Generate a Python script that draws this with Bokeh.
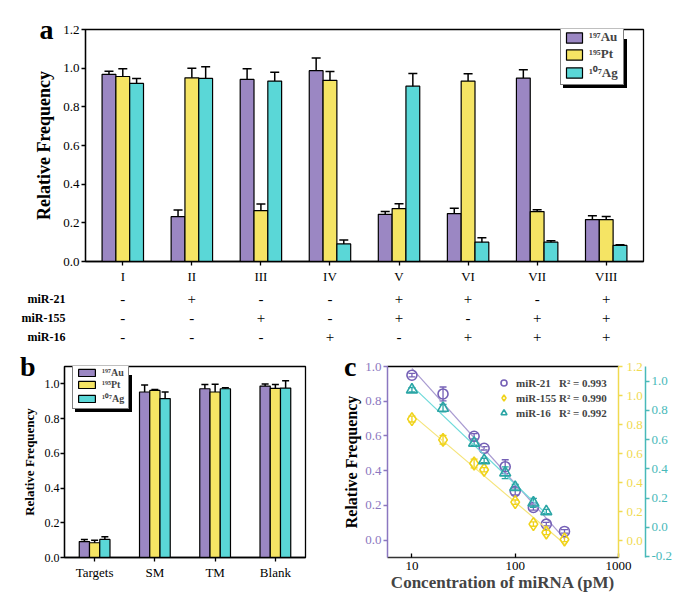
from bokeh.plotting import figure
from bokeh.models import (Range1d, FactorRange, FixedTicker, PrintfTickFormatter,
                          NumeralTickFormatter, Whisker, TeeHead, ColumnDataSource,
                          Legend, LegendItem, LinearAxis)
from bokeh.layouts import column, row
from bokeh.embed import file_html
from bokeh.resources import INLINE
from bokeh.core.properties import value
import numpy as np

SERIF = "Liberation Serif"

# ---------------- data: panel a ----------------
groups_a = ["I", "II", "III", "IV", "V", "VI", "VII", "VIII"]
au_a = [0.968, 0.232, 0.942, 0.987, 0.244, 0.248, 0.949, 0.217]
au_a_err = [0.016, 0.034, 0.055, 0.065, 0.015, 0.027, 0.043, 0.019]
pt_a = [0.957, 0.950, 0.263, 0.937, 0.274, 0.933, 0.258, 0.217]
pt_a_err = [0.040, 0.049, 0.034, 0.046, 0.025, 0.038, 0.010, 0.016]
ag_a = [0.921, 0.947, 0.933, 0.091, 0.907, 0.100, 0.100, 0.083]
ag_a_err = [0.026, 0.060, 0.046, 0.020, 0.065, 0.023, 0.007, 0.003]

table_rows = ["miR-21", "miR-155", "miR-16"]
mir21 = ["-", "+", "-", "-", "+", "+", "-", "+"]
mir155 = ["-", "-", "+", "-", "+", "-", "+", "+"]
mir16 = ["-", "-", "-", "+", "-", "+", "+", "+"]

# ---------------- data: panel b ----------------
groups_b = ["Targets", "SM", "TM", "Blank"]
au_b = [0.092, 0.953, 0.972, 0.987]
au_b_err = [0.012, 0.040, 0.025, 0.012]
pt_b = [0.085, 0.962, 0.953, 0.974]
pt_b_err = [0.015, 0.005, 0.045, 0.022]
ag_b = [0.104, 0.915, 0.972, 0.976]
ag_b_err = [0.015, 0.038, 0.005, 0.042]

series_names = ["\u00b9\u2079\u2077Au", "\u00b9\u2079\u2075Pt", "\u00b9\u2070\u2077Ag"]

# ---------------- data: panel c ----------------
conc_21 = [10, 20, 40, 50, 80, 100, 150, 200, 300]
rf_21 = [0.950, 0.842, 0.598, 0.529, 0.423, 0.281, 0.188, 0.092, 0.050]
err_21 = [0.010, 0.040, 0.015, 0.010, 0.040, 0.020, 0.015, 0.010, 0.010]
conc_155 = [10, 20, 40, 50, 100, 150, 200, 300]
rf_155 = [0.838, 0.695, 0.532, 0.489, 0.266, 0.115, 0.057, 0.009]
err_155 = [0.020, 0.030, 0.030, 0.015, 0.015, 0.015, 0.015, 0.015]
conc_16 = [10, 20, 40, 50, 80, 100, 150, 200]
rf_16 = [0.941, 0.815, 0.576, 0.457, 0.373, 0.274, 0.167, 0.108]
err_16 = [0.015, 0.025, 0.015, 0.015, 0.040, 0.020, 0.030, 0.015]
mir_names = ["miR-21", "miR-155", "miR-16"]
r2_values = ["0.993", "0.990", "0.992"]

PURPLE, YELLOW, TEAL = "#9b87c3", "#f5e464", "#5ad7d7"
bar_colors = [PURPLE, YELLOW, TEAL]


def style_axis(ax, size):
    ax.major_label_text_font = SERIF
    ax.major_label_text_font_size = size
    ax.major_label_text_color = "black"
    ax.axis_line_color = "black"
    ax.axis_line_width = 1.3
    ax.major_tick_line_width = 1.3
    ax.minor_tick_line_color = None
    ax.minor_tick_out = 0
    ax.minor_tick_in = 0
    ax.major_tick_out = 4
    ax.major_tick_in = 0


def letter_axis(p, letter, standoff, title, title_size, title_standoff):
    """Outer left axis: carries the panel letter (as its only tick label) and the y title."""
    p.extra_y_ranges["lab"] = Range1d(0, 1)
    ax = LinearAxis(y_range_name="lab", ticker=FixedTicker(ticks=[1]),
                    major_label_overrides={1: letter})
    ax.axis_line_color = None
    ax.major_tick_line_color = None
    ax.minor_tick_line_color = None
    ax.major_tick_out = 0
    ax.major_tick_in = 0
    ax.minor_tick_out = 0
    ax.minor_tick_in = 0
    ax.major_label_standoff = standoff
    ax.major_label_text_font = SERIF
    ax.major_label_text_font_style = "bold"
    ax.major_label_text_font_size = "28px"
    ax.major_label_text_color = "black"
    ax.axis_label = title
    ax.axis_label_text_font = SERIF
    ax.axis_label_text_font_style = "bold"
    ax.axis_label_text_font_size = title_size
    ax.axis_label_text_color = "black"
    ax.axis_label_standoff = title_standoff
    p.add_layout(ax, "left")


def bar_panel(p, vals_list, err_list, width, label_size, glyph_w, glyph_h, loc, head, pad, lab_w):
    items = []
    shadow_items = []
    for k, (vals, errs) in enumerate(zip(vals_list, err_list)):
        off = (k - 1) * width
        xs = [i + off for i in range(len(vals))]
        src = ColumnDataSource(dict(x=xs, top=vals,
                                    upper=[v + e for v, e in zip(vals, errs)],
                                    lower=[v - e for v, e in zip(vals, errs)]))
        r = p.vbar(x="x", top="top", width=width, source=src, fill_color=bar_colors[k],
                   line_color="black", line_width=1.2)
        p.add_layout(Whisker(source=src, base="x", upper="upper", lower="lower",
                             line_color="black", line_width=1.5,
                             upper_head=TeeHead(size=head, line_width=1.5, line_color="black"),
                             lower_head=TeeHead(size=head, line_width=1.5, line_color="black")))
        items.append(LegendItem(label=series_names[k], renderers=[r]))
        shadow_items.append(LegendItem(label=" ", renderers=[r]))
    common = dict(margin=0, padding=pad, spacing=1, glyph_width=glyph_w, glyph_height=glyph_h,
                  label_standoff=5, label_text_font=SERIF, label_text_font_style="bold",
                  label_text_font_size=label_size, label_height=glyph_h, label_width=lab_w,
                  border_line_width=1.2)
    shadow = Legend(items=shadow_items, location=(loc[0] + 3, loc[1] - 3),
                    border_line_color="black", background_fill_color="black",
                    background_fill_alpha=1.0, **common)
    leg = Legend(items=items, location=loc, border_line_color="black",
                 background_fill_color="white", background_fill_alpha=1.0, **common)
    p.add_layout(shadow)
    p.add_layout(leg)


# ================= panel a =================
xr_a = Range1d(-0.54, 7.54)
pa = figure(width=680, height=287, x_range=xr_a, y_range=Range1d(0, 1.2),
            output_backend="svg", toolbar_location=None,
            min_border_left=85, min_border_right=37, min_border_top=29, min_border_bottom=26)
pa.grid.visible = False
pa.outline_line_color = "black"
pa.outline_line_width = 1.3
bar_panel(pa, [au_a, pt_a, ag_a], [au_a_err, pt_a_err, ag_a_err], 0.2, "13px", 20, 13,
          (475, 176), 9, 3, 31)
pa.xaxis.ticker = FixedTicker(ticks=list(range(len(groups_a))))
pa.xaxis.major_label_overrides = {i: g for i, g in enumerate(groups_a)}
pa.yaxis.ticker = FixedTicker(ticks=[0, 0.2, 0.4, 0.6, 0.8, 1.0, 1.2])
pa.yaxis.formatter = PrintfTickFormatter(format="%.1f")
style_axis(pa.xaxis[0], "13px")
style_axis(pa.yaxis[0], "13px")
pa.xaxis.major_label_standoff = 3
pa.yaxis.major_label_standoff = 2
letter_axis(pa, "a", 7, "Relative Frequency", "18px", -17)

# ================= table under panel a =================
pt = figure(width=680, height=59, x_range=xr_a,
            y_range=FactorRange(factors=table_rows[::-1]),
            output_backend="svg", toolbar_location=None,
            min_border_left=85, min_border_right=37, min_border_top=2, min_border_bottom=0)
pt.grid.visible = False
pt.outline_line_color = None
pt.xaxis.visible = False
pt.yaxis.axis_line_color = None
pt.yaxis.major_tick_line_color = None
pt.yaxis.major_tick_out = 0
pt.yaxis.major_label_standoff = 20
pt.yaxis.major_label_text_font = SERIF
pt.yaxis.major_label_text_font_style = "bold"
pt.yaxis.major_label_text_font_size = "12px"
pt.yaxis.major_label_text_color = "black"
for name, signs in zip(table_rows, [mir21, mir155, mir16]):
    src = ColumnDataSource(dict(x=list(range(len(signs))), y=[name] * len(signs), t=signs))
    pt.text(x="x", y="y", text="t", source=src, text_align="center", text_baseline="middle",
            text_font=value(SERIF), text_font_size="15px", text_color="black")

# ================= panel b =================
pb = figure(width=340, height=260, x_range=Range1d(-0.5, 3.5), y_range=Range1d(0, 1.1),
            output_backend="svg", toolbar_location=None,
            min_border_left=64, min_border_right=35, min_border_top=20, min_border_bottom=45)
pb.grid.visible = False
pb.outline_line_color = "black"
pb.outline_line_width = 1.3
bar_panel(pb, [au_b, pt_b, ag_b], [au_b_err, pt_b_err, ag_b_err], 0.17, "10px", 21, 9,
          (8, 148), 7, 3, 23)
pb.xaxis.ticker = FixedTicker(ticks=list(range(len(groups_b))))
pb.xaxis.major_label_overrides = {i: g for i, g in enumerate(groups_b)}
pb.yaxis.ticker = FixedTicker(ticks=[0, 0.2, 0.4, 0.6, 0.8, 1.0])
pb.yaxis.formatter = PrintfTickFormatter(format="%.1f")
style_axis(pb.xaxis[0], "13px")
style_axis(pb.yaxis[0], "12px")
pb.xaxis.major_label_standoff = 3
pb.yaxis.major_label_standoff = 1
letter_axis(pb, "b", 6, "Relative Frequency", "13px", -20)

# ================= panel c =================
C_PUR_AX, C_YEL_AX, C_TEA_AX = "#8b77c0", "#f0da50", "#48b9b9"
C_PUR_M, C_YEL_M, C_TEA_M = "#7560b6", "#f0d31a", "#2aa5a5"
C_PUR_L, C_YEL_L, C_TEA_L = "#a99bd1", "#f5e47a", "#6fdada"

pc = figure(width=342, height=260, x_axis_type="log", x_range=Range1d(5.8, 1000),
            y_range=Range1d(-0.1, 1.0), output_backend="svg", toolbar_location=None,
            min_border_left=43, min_border_right=64, min_border_top=20, min_border_bottom=49)
pc.extra_y_ranges = {"yel": Range1d(-0.115, 1.2), "tea": Range1d(-0.207, 1.10)}
pc.grid.visible = False
pc.outline_line_color = None

# axes
pc.xaxis.ticker = FixedTicker(ticks=[10, 100, 1000])
pc.xaxis.formatter = NumeralTickFormatter(format="0")
xa = pc.xaxis[0]
style_axis(xa, "13px")
xa.major_tick_out = 0
xa.major_tick_in = 4
xa.axis_line_color = "#333333"
xa.major_label_standoff = 4
xa.axis_label = "Concentration of miRNA (pM)"
xa.axis_label_text_font = SERIF
xa.axis_label_text_font_style = "bold"
xa.axis_label_text_font_size = "17px"
xa.axis_label_standoff = 0

top_ax = LinearAxis(ticker=FixedTicker(ticks=[]), major_tick_out=0, major_tick_in=0,
                    minor_tick_out=0, minor_tick_in=0, axis_line_color="black",
                    axis_line_width=1.3, major_label_standoff=0)
pc.add_layout(top_ax, "above")

ya = pc.yaxis[0]
ya.ticker = FixedTicker(ticks=[0, 0.2, 0.4, 0.6, 0.8, 1.0])
ya.formatter = PrintfTickFormatter(format="%.1f")
style_axis(ya, "13px")
ya.axis_line_color = C_PUR_AX
ya.axis_line_width = 1.5
ya.major_tick_line_color = C_PUR_AX
ya.major_label_text_color = C_PUR_AX
ya.major_label_standoff = 2
letter_axis(pc, "c", 6, "Relative Frequency", "16px", -19)

yy = LinearAxis(y_range_name="yel", ticker=FixedTicker(ticks=[0, 0.2, 0.4, 0.6, 0.8, 1.0, 1.2]),
                formatter=PrintfTickFormatter(format="%.1f"))
style_axis(yy, "13px")
yy.axis_line_color = C_YEL_AX
yy.axis_line_width = 1.5
yy.major_tick_line_color = C_YEL_AX
yy.major_label_text_color = C_YEL_AX
yy.major_label_standoff = 4
pc.add_layout(yy, "right")

yt = LinearAxis(y_range_name="tea", ticker=FixedTicker(ticks=[-0.2, 0, 0.2, 0.4, 0.6, 0.8, 1.0]),
                formatter=PrintfTickFormatter(format="%.1f"))
style_axis(yt, "13px")
yt.axis_line_color = C_TEA_AX
yt.axis_line_width = 1.5
yt.major_tick_line_color = C_TEA_AX
yt.major_label_text_color = C_TEA_AX
yt.major_label_standoff = 2
pc.add_layout(yt, "right")

series_c = [
    (conc_21, rf_21, err_21, "default", C_PUR_L, C_PUR_M, "circle", 10),
    (conc_155, rf_155, err_155, "yel", C_YEL_L, C_YEL_M, "diamond", 13),
    (conc_16, rf_16, err_16, "tea", C_TEA_L, C_TEA_M, "triangle", 11),
]
marker_rs = []
dummy_rs = []
for xs, ys, es, rname, lcol, mcol, mk, sz in series_c:
    lx = np.log10(np.array(xs, dtype=float))
    slope, icpt = np.polyfit(lx, np.array(ys), 1)
    fx = [min(xs), max(xs)]
    fy = [icpt + slope * np.log10(v) for v in fx]
    pc.line(fx, fy, line_color=lcol, line_width=1.2, y_range_name=rname)
    src = ColumnDataSource(dict(x=xs, y=ys,
                                upper=[a + b for a, b in zip(ys, es)],
                                lower=[a - b for a, b in zip(ys, es)]))
    pc.add_layout(Whisker(source=src, base="x", upper="upper", lower="lower", dimension="height",
                          y_range_name=rname, line_color=mcol, line_width=1.3,
                          upper_head=TeeHead(size=7, line_width=1.3, line_color=mcol),
                          lower_head=TeeHead(size=7, line_width=1.3, line_color=mcol)))
    r = pc.scatter(x="x", y="y", source=src, marker=mk, size=sz, fill_color="white",
                   fill_alpha=0.0, line_color=mcol, line_width=1.6, y_range_name=rname)
    marker_rs.append(r)
    d = pc.scatter(x=[], y=[], marker="circle", size=1, fill_alpha=0, line_alpha=0)
    dummy_rs.append(d)

leg_c1 = Legend(items=[LegendItem(label=n, renderers=[r]) for n, r in zip(mir_names, marker_rs)],
                location=(109, 137), margin=0, padding=0, spacing=0, glyph_width=15, glyph_height=15,
                label_height=15, label_standoff=5, label_text_font=SERIF, label_text_font_style="bold",
                label_text_font_size="11px", border_line_color=None, background_fill_alpha=0)
leg_c2 = Legend(items=[LegendItem(label="R\u00b2 = " + v, renderers=[d]) for v, d in zip(r2_values, dummy_rs)],
                location=(171, 137), margin=0, padding=0, spacing=0, glyph_width=1, glyph_height=15,
                label_height=15, label_standoff=0, label_text_font=SERIF, label_text_font_style="bold",
                label_text_font_size="11px", border_line_color=None, background_fill_alpha=0)
pc.add_layout(leg_c1)
pc.add_layout(leg_c2)

layout = column(pa, pt, row(pb, pc))
open("out.html", "w").write(file_html(layout, INLINE))
